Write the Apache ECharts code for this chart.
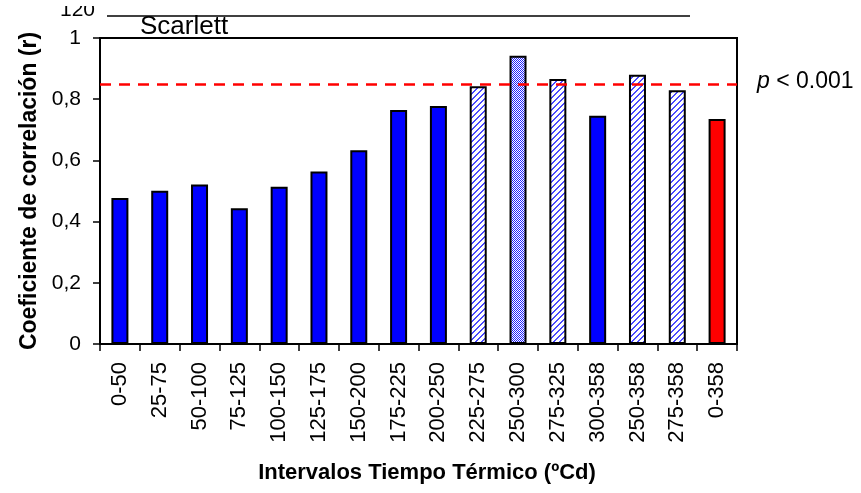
<!DOCTYPE html>
<html>
<head>
<meta charset="utf-8">
<script src="https://cdn.jsdelivr.net/npm/echarts@6/dist/echarts.min.js"></script>
<style>
  html, body { margin: 0; padding: 0; background: #fff; }
  #chart { width: 861px; height: 493px; }
</style>
</head>
<body>
<div id="chart"></div>
<script>
// intervalos de tiempo térmico
var categories = ['0-50', '25-75', '50-100', '75-125', '100-150', '125-175', '150-200', '175-225',
  '200-250', '225-275', '250-300', '275-325', '300-358', '250-358', '275-358', '0-358'];
// coeficiente de correlación (r)
var values = [0.477, 0.501, 0.521, 0.444, 0.514, 0.564, 0.633, 0.765,
  0.778, 0.842, 0.942, 0.866, 0.746, 0.880, 0.829, 0.735];
// relleno de cada barra
var fills = ['solid', 'solid', 'solid', 'solid', 'solid', 'solid', 'solid', 'solid',
  'solid', 'hatch', 'dots', 'hatch', 'solid', 'hatch', 'hatch', 'red'];
var threshold = 0.848;

var FONT = 'Liberation Sans';

function hatchPattern() {
  var c = document.createElement('canvas');
  c.width = 6; c.height = 6;
  var ctx = c.getContext('2d');
  ctx.fillStyle = '#fff';
  ctx.fillRect(0, 0, 6, 6);
  ctx.fillStyle = '#4a4aff';
  for (var x = 0; x < 6; x++) {
    for (var y = 0; y < 6; y++) {
      if ((x + y) % 6 < 2) ctx.fillRect(x, y, 1, 1);
    }
  }
  return c;
}
function dotPattern() {
  var c = document.createElement('canvas');
  c.width = 2; c.height = 2;
  var ctx = c.getContext('2d');
  ctx.fillStyle = '#fff';
  ctx.fillRect(0, 0, 2, 2);
  ctx.fillStyle = '#2020ff';
  ctx.fillRect(0, 0, 1, 1);
  ctx.fillRect(1, 1, 1, 1);
  return c;
}

var hatch = hatchPattern();
var dots = dotPattern();

function fillColor(f) {
  if (f == 'hatch') return { image: hatch, repeat: 'repeat' };
  if (f == 'dots') return { image: dots, repeat: 'repeat' };
  if (f == 'red') return '#ff0000';
  return '#0000ff';
}

var barData = values.map(function (v, i) {
  return { value: v, itemStyle: { color: fillColor(fills[i]) } };
});

var chart = echarts.init(document.getElementById('chart'));
var option = {
  animation: false,
  textStyle: { fontFamily: FONT },
  grid: {
    left: 100, right: 124, top: 38, bottom: 149,
    show: true, borderColor: '#000', borderWidth: 2, backgroundColor: 'transparent'
  },
  xAxis: {
    type: 'category',
    data: categories,
    axisLine: { lineStyle: { color: '#000', width: 2 } },
    axisTick: { show: true, length: 7, lineStyle: { color: '#000', width: 1.5 } },
    axisLabel: { rotate: 90, fontSize: 22, color: '#000', fontFamily: FONT, margin: 18, interval: 0 }
  },
  yAxis: {
    type: 'value',
    min: 0, max: 1, interval: 0.2,
    name: 'Coeficiente de correlación (r)',
    nameLocation: 'middle',
    nameRotate: 90,
    nameGap: 55,
    nameTextStyle: { fontSize: 23, fontWeight: 'bold', color: '#000', fontFamily: FONT },
    axisLine: { show: true, lineStyle: { color: '#000', width: 2 } },
    axisTick: { show: true, length: 7, lineStyle: { color: '#000', width: 1.5 } },
    splitLine: { show: false },
    axisLabel: {
      fontSize: 21, color: '#000', fontFamily: FONT, margin: 19,
      formatter: function (v) { return String(+v.toFixed(1)).replace('.', ','); }
    }
  },
  series: [{
    type: 'bar',
    data: barData,
    barWidth: 17,
    itemStyle: { borderColor: '#000', borderWidth: 2 },
    markLine: {
      silent: true,
      symbol: 'none',
      label: { show: false },
      lineStyle: { color: '#ff0000', type: [11, 8], width: 2.5 },
      data: [{ yAxis: threshold }]
    }
  }],
  graphic: [
    { type: 'line', shape: { x1: 107, y1: 16, x2: 690, y2: 16 }, style: { stroke: '#000', lineWidth: 1.5 } },
    { type: 'text', x: 95, y: 21, style: { text: '120', fontSize: 21, fontFamily: FONT, fill: '#000', align: 'right', verticalAlign: 'bottom' } },
    { type: 'rect', shape: { x: 0, y: 0, width: 861, height: 6 }, style: { fill: '#fff' } },
    { type: 'text', x: 140, y: 27, style: { text: 'Scarlett', fontSize: 26, fontFamily: FONT, fill: '#000', align: 'left', verticalAlign: 'middle' } },
    { type: 'text', x: 757, y: 82, style: {
      text: '{i|p} < 0.001', fontSize: 23, fontFamily: FONT, fill: '#000', align: 'left', verticalAlign: 'middle',
      rich: { i: { fontStyle: 'italic', fontSize: 23, fontFamily: FONT, fill: '#000' } }
    } },
    { type: 'text', x: 427, y: 473, style: {
      text: 'Intervalos Tiempo Térmico (ºCd)', fontSize: 22, fontWeight: 'bold', fontFamily: FONT,
      fill: '#000', align: 'center', verticalAlign: 'middle'
    } }
  ]
};
chart.setOption(option);
</script>
</body>
</html>
